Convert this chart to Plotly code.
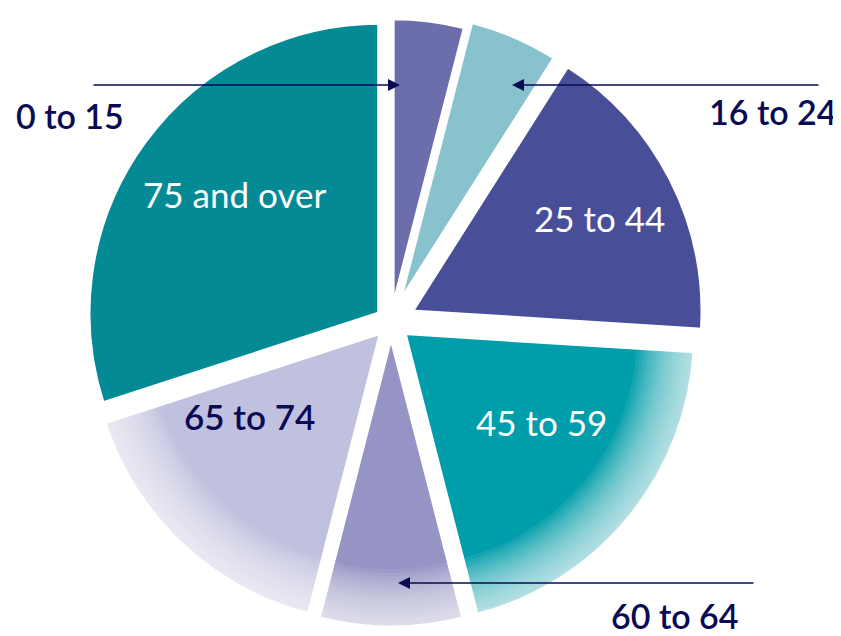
import plotly.graph_objects as go

# Data
age_groups = ["0 to 15", "16 to 24", "25 to 44", "45 to 59", "60 to 64", "65 to 74", "75 and over"]
shares = [4, 5, 17, 20, 8, 16, 30]
pulls = [0.045, 0.07, 0.08, 0.06, 0.05, 0.05, 0.05]
colors = ["#6C6DAB", "#88C3CD", "#484E98", "#009EAA", "#9694C4", "#C0C0DF", "#038A95"]
# fade-to-white strength at the rim (styling)
rim_fade = [0.0, 0.0, 0.0, 1.0, 1.0, 1.0, 0.0]

NAVY = "#0A0A55"
OFF = 8                      # page body margin offset
W, H = 841 - OFF, 636 - OFF  # figure size


def px(x):
    return (x - OFF) / W


def py(y):
    return 1 - (y - OFF) / H


# pie placement (reference pixel coords)
cx, cy, half = 391, 322, 314


def dom(h):
    return dict(x=[px(cx - h), px(cx + h)], y=[py(cy + h), py(cy - h)])


common = dict(labels=age_groups, values=shares, sort=False, direction="clockwise",
              rotation=0, textinfo="none", showlegend=False)

fig = go.Figure()
fig.add_trace(go.Pie(
    pull=pulls, hoverinfo="label+percent", domain=dom(half),
    marker=dict(colors=colors, line=dict(color="white", width=4)), **common,
))

# rim fade rings (soft gradient built from thin translucent rings)
n_r = 16
for i in range(n_r):
    hole = 0.80 + 0.195 * i / n_r
    ring_cols = ["rgba(255,255,255,%.3f)" % (0.075 * f) for f in rim_fade]
    fig.add_trace(go.Pie(
        pull=pulls, hole=hole, hoverinfo="skip", domain=dom(half),
        marker=dict(colors=ring_cols, line=dict(width=0)), **common,
    ))

# inside labels
inside = [
    ("75 and over", 234, 194, "white", 400),
    ("25 to 44", 599, 218, "white", 400),
    ("45 to 59", 541, 422, "white", 400),
    ("65 to 74", 249, 416, NAVY, 600),
]
for t, x, y, c, w in inside:
    fig.add_annotation(x=px(x), y=py(y), xref="paper", yref="paper", text=t,
                       xanchor="center", yanchor="middle", showarrow=False,
                       font=dict(family="Lato", size=35, color=c, weight=w))

# outside labels
outside = [
    ("0 to 15", 70, 115),
    ("16 to 24", 773, 112),
    ("60 to 64", 675, 615),
]
for t, x, y in outside:
    fig.add_annotation(x=px(x), y=py(y), xref="paper", yref="paper", text=t,
                       xanchor="center", yanchor="middle", showarrow=False,
                       font=dict(family="Lato", size=34, color=NAVY, weight=600))

# arrows (head, tail) in reference pixel coords
arrows = [
    (400, 85, 92, 85),
    (512, 85, 820, 85),
    (398, 583, 755, 583),
]
for hx, hy, tx, ty in arrows:
    fig.add_annotation(x=px(hx), y=py(hy), ax=tx - hx, ay=ty - hy,
                       xref="paper", yref="paper", axref="pixel", ayref="pixel",
                       text="", showarrow=True, arrowhead=2, arrowsize=1.6,
                       arrowwidth=1.5, arrowcolor=NAVY)

fig.update_layout(
    width=W, height=H,
    margin=dict(l=0, r=0, t=0, b=0),
    paper_bgcolor="white",
    plot_bgcolor="white",
)

fig.write_html("out.html")
